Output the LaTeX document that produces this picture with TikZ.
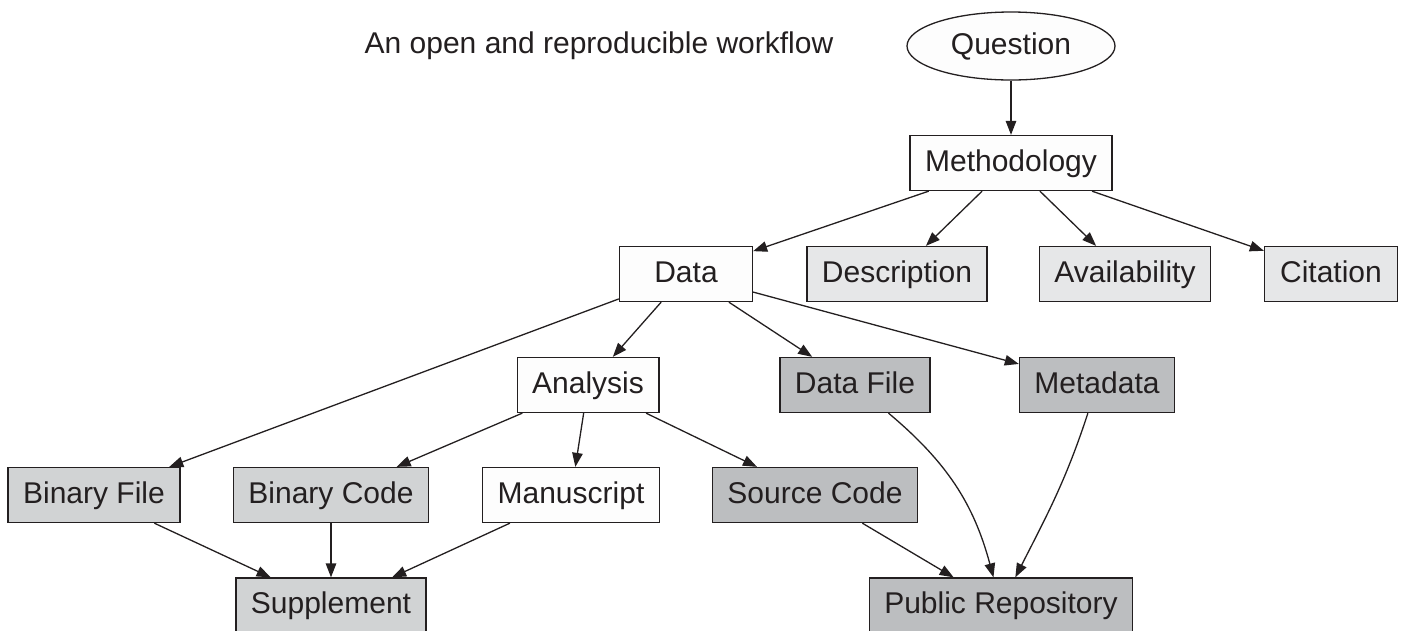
\documentclass[tikz,border=0pt]{standalone}
\usepackage{fontspec}
\setmainfont{Liberation Sans}
\usetikzlibrary{shapes.geometric,arrows.meta}
\definecolor{ink}{HTML}{231F20}
\definecolor{fillw}{HTML}{FDFDFD}
\definecolor{filll}{HTML}{E6E7E8}
\definecolor{fillm}{HTML}{D1D3D4}
\definecolor{filld}{HTML}{BCBEC0}
\tikzset{
  every node/.style={font=\fontsize{30}{36}\selectfont, text=ink},
  box/.style={draw=ink, line width=1.3pt, rectangle, minimum height=55pt, minimum width=133pt, inner xsep=15pt, inner ysep=0pt, text height=22pt, text depth=6pt},
  wbox/.style={box, fill=fillw},
  lbox/.style={box, fill=filll},
  mbox/.style={box, fill=fillm},
  dbox/.style={box, fill=filld},
  oval/.style={draw=ink, line width=1.3pt, ellipse, fill=fillw, minimum width=208pt, minimum height=68pt, inner sep=0pt, text height=22pt, text depth=6pt},
  conn/.style={draw=ink, line width=1.3pt, -{Triangle[length=14pt,width=10.5pt]}},
}
\begin{document}
\begin{tikzpicture}[x=1pt,y=1pt]
\useasboundingbox (0,0) rectangle (1405,-630);
\clip (0,0) rectangle (1405,-630);
\node[text height=22pt, text depth=6pt] (title) at (599,-45) {An open and reproducible workflow};
\node[oval] (question) at (1011,-46) {Question};
\node[wbox] (method) at (1011,-163) {Methodology};
\node[wbox] (data) at (686,-274) {Data};
\node[lbox] (desc) at (897,-274) {Description};
\node[lbox] (avail) at (1125,-274) {Availability};
\node[lbox] (cite) at (1331,-274) {Citation};
\node[wbox] (analysis) at (588,-385) {Analysis};
\node[dbox] (datafile) at (855,-385) {Data File};
\node[dbox] (meta) at (1097,-385) {Metadata};
\node[mbox] (binfile) at (94,-495) {Binary File};
\node[mbox] (bincode) at (331,-495) {Binary Code};
\node[wbox] (manu) at (571,-495) {Manuscript};
\node[dbox] (source) at (815,-495) {Source Code};
\node[mbox] (supp) at (331,-605.5) {Supplement};
\node[dbox] (repo) at (1001,-605.5) {Public Repository};

\draw[conn] (question) -- (method);
\draw[conn] (method) -- (data);
\draw[conn] (method) -- (desc);
\draw[conn] (method) -- (avail);
\draw[conn] (method) -- (cite);
\draw[conn] (data) -- (binfile);
\draw[conn] (data) -- (analysis);
\draw[conn] (data) -- (datafile);
\draw[conn] (data) -- (meta);
\draw[conn] (analysis) -- (bincode);
\draw[conn] (analysis) -- (manu);
\draw[conn] (analysis) -- (source);
\draw[conn] (binfile) -- (supp);
\draw[conn] (bincode) -- (supp);
\draw[conn] (manu) -- (supp);
\draw[conn] (source) -- (repo);
\draw[conn] (datafile) to[out=-40,in=105] (repo);
\draw[conn] (meta) to[out=-108,in=63] (repo);
\end{tikzpicture}
\end{document}
